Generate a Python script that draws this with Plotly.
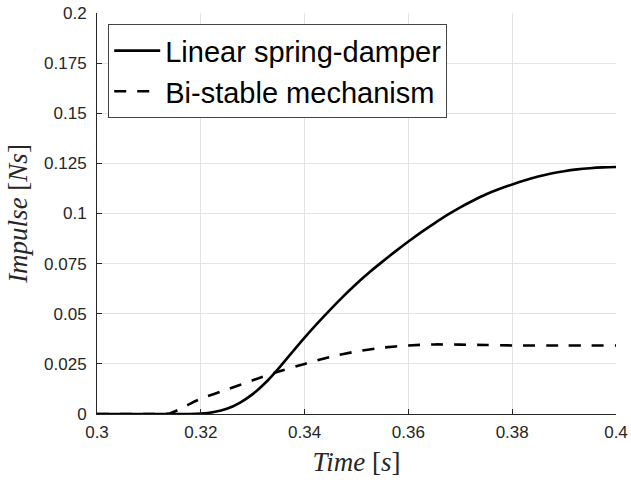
import plotly.graph_objects as go

# Data
t_linear = [0.300, 0.310, 0.3175, 0.3200, 0.3225, 0.3250, 0.3275, 0.3300, 0.3325, 0.3350,
            0.3375, 0.3400, 0.3425, 0.3450, 0.3475, 0.3500, 0.3525, 0.3550, 0.3575,
            0.3600, 0.3625, 0.3650, 0.3675, 0.3700, 0.3725, 0.3750, 0.3775, 0.3800,
            0.3825, 0.3850, 0.3875, 0.3900, 0.3925, 0.3950, 0.3975, 0.4000]
v_linear = [0.0, 0.0, 0.0, 0.0002, 0.0010, 0.0026, 0.0056, 0.0099, 0.0157, 0.0228,
            0.0305, 0.0381, 0.0453, 0.0522, 0.0588, 0.0650, 0.0707, 0.0760, 0.0811,
            0.0860, 0.0907, 0.0951, 0.0993, 0.1031, 0.1065, 0.1096, 0.1122, 0.1145,
            0.1166, 0.1184, 0.1199, 0.1211, 0.1220, 0.1226, 0.1230, 0.1232]

t_bistable = [0.300, 0.310, 0.314, 0.316, 0.318, 0.320, 0.325, 0.330, 0.335, 0.340, 0.345,
              0.350, 0.355, 0.360, 0.365, 0.370, 0.375, 0.380, 0.390, 0.400]
v_bistable = [0.0, 0.0, 0.0003, 0.0025, 0.0052, 0.0076, 0.0122, 0.0168, 0.0212, 0.0250, 0.0285,
              0.0312, 0.0331, 0.0342, 0.0347, 0.0346, 0.0344, 0.0342, 0.0342, 0.0342]

x_ticks = [0.30, 0.32, 0.34, 0.36, 0.38, 0.40]
x_labels = ["0.3", "0.32", "0.34", "0.36", "0.38", "0.4"]
y_ticks = [0, 0.025, 0.05, 0.075, 0.1, 0.125, 0.15, 0.175, 0.2]
y_labels = ["0", "0.025", "0.05", "0.075", "0.1", "0.125", "0.15", "0.175", "0.2"]

names = ["Linear spring-damper", "Bi-stable mechanism"]

fig = go.Figure()
fig.add_trace(go.Scatter(x=t_linear, y=v_linear, mode="lines", name=names[0],
                         line=dict(color="black", width=2.6, shape="spline", smoothing=0.8)))
fig.add_trace(go.Scatter(x=t_bistable, y=v_bistable, mode="lines", name=names[1],
                         line=dict(color="black", width=2.6, dash="12px,11px",
                                   shape="spline", smoothing=0.6)))

tickfont = dict(family="Liberation Sans, Arial, sans-serif", size=17, color="#262626")
titlefont = dict(family="Liberation Serif, Times New Roman, serif", size=27, color="#262626")

fig.update_layout(
    width=631, height=480,
    margin=dict(l=96.5, r=15, t=12.7, b=66),
    paper_bgcolor="white", plot_bgcolor="white",
    showlegend=True,
    legend=dict(x=0.0216, y=0.972, xanchor="left", yanchor="top",
                bgcolor="white", bordercolor="#444444", borderwidth=1,
                font=dict(family="Liberation Sans, Arial, sans-serif", size=29, color="black"),
                tracegroupgap=0, itemwidth=46),
    xaxis=dict(range=[0.3, 0.4], tickvals=x_ticks, ticktext=x_labels,
               showgrid=True, gridcolor="#e3e3e3", gridwidth=1,
               showline=True, linecolor="#262626", linewidth=1,
               ticks="inside", ticklen=5, tickcolor="#262626",
               tickfont=tickfont, zeroline=False, automargin=False, ticklabelstandoff=3,
               title=dict(text="<i>Time</i> [<i>s</i>]", font=titlefont, standoff=10)),
    yaxis=dict(range=[0, 0.2], tickvals=y_ticks, ticktext=y_labels,
               showgrid=True, gridcolor="#e3e3e3", gridwidth=1,
               showline=True, linecolor="#262626", linewidth=1,
               ticks="inside", ticklen=5, tickcolor="#262626",
               tickfont=tickfont, zeroline=False, ticklabelstandoff=6, automargin=False,
               title=dict(text="<i>Impulse</i> [<i>Ns</i>]", font=titlefont, standoff=8)),
)

fig.write_html("out.html")
